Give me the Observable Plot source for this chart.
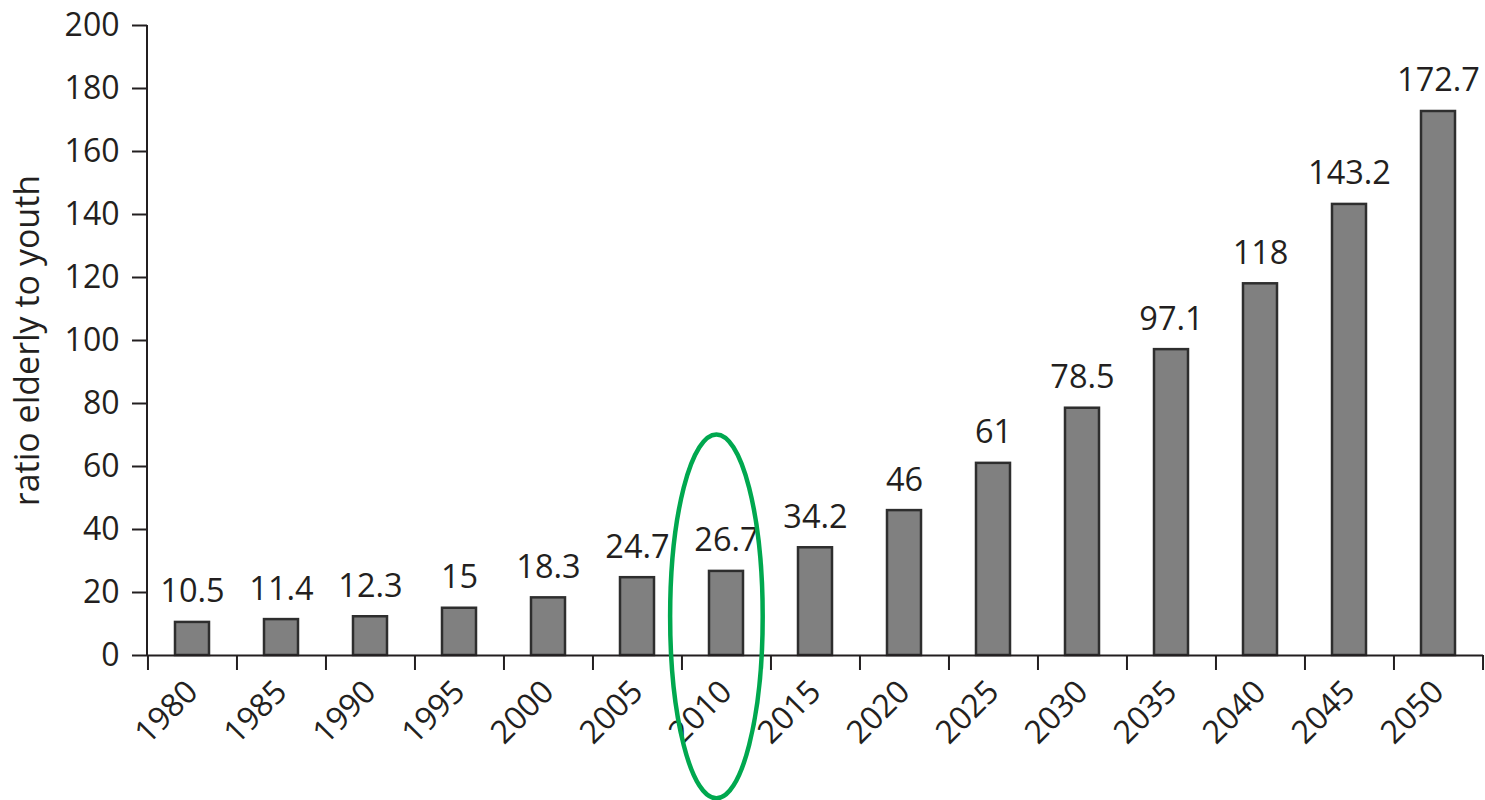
<!DOCTYPE html>
<html><head><meta charset="utf-8">
<script src="https://cdn.jsdelivr.net/npm/d3@7"></script>
<script src="https://cdn.jsdelivr.net/npm/@observablehq/plot@0.6"></script>
<style>body{margin:0;background:#fff}#chart{width:1485px;height:800px}</style>
</head><body><div id="chart"></div>
<script>
const years = ["1980","1985","1990","1995","2000","2005","2010","2015","2020","2025","2030","2035","2040","2045","2050"];
const values = [10.5, 11.4, 12.3, 15, 18.3, 24.7, 26.7, 34.2, 46, 61, 78.5, 97.1, 118, 143.2, 172.7];
const valueLabels = ["10.5","11.4","12.3","15","18.3","24.7","26.7","34.2","46","61","78.5","97.1","118","143.2","172.7"];
const yTicks = [0, 20, 40, 60, 80, 100, 120, 140, 160, 180, 200];
const yLabel = "ratio elderly to youth";
const highlightYear = "2010";
const highlightTop = 70;
const highlightBottom = -45.5;

const data = years.map((year, i) => ({year, value: values[i], label: valueLabels[i]}));

const W = 1485, H = 800;
const mL = 147, mR = 2, mT = 25, mB = 145;
const padIn = 0.62, padOut = 0.31;
const step = (W - mL - mR) / years.length;
const ink = "#231f20";

function yAxisLine(index, scales, values, dims) {
  return d3.create("svg:line")
    .attr("x1", dims.marginLeft).attr("x2", dims.marginLeft)
    .attr("y1", scales.y(200)).attr("y2", scales.y(0))
    .attr("stroke", ink).attr("stroke-width", 2).node();
}

function highlight(index, scales, values, dims) {
  const x = scales.x, y = scales.y;
  const st = x(years[1]) - x(years[0]);
  const bw = st * (1 - padIn);
  const cx = x(highlightYear) + bw / 2 - 9.5;
  const y1 = y(highlightTop), y2 = y(highlightBottom);
  return d3.create("svg:ellipse")
    .attr("cx", cx).attr("cy", (y1 + y2) / 2)
    .attr("rx", st * 0.52).attr("ry", (y2 - y1) / 2)
    .attr("fill", "none").attr("stroke", "#00a84f").attr("stroke-width", 4.5).node();
}

const chart = Plot.plot({
  width: W, height: H,
  marginLeft: mL, marginRight: mR, marginTop: mT, marginBottom: mB,
  style: {fontFamily: "Open Sans", fontSize: "32px", color: ink, background: "#fff", overflow: "visible"},
  x: {domain: years, paddingInner: padIn, paddingOuter: padOut, label: null, axis: null},
  y: {domain: [0, 200], label: null, axis: null},
  marks: [
    Plot.barY(data, {x: "year", y: "value", fill: "#808080", stroke: "#2e2e2e", strokeWidth: 2.5}),
    Plot.ruleY([0], {stroke: ink, strokeWidth: 2}),
    yAxisLine,
    Plot.axisY({ticks: yTicks, tickSize: 15, tickPadding: 13, fontSize: 32, strokeWidth: 2, label: null}),
    Plot.axisX({tickSize: 15, dx: -step / 2, tickFormat: () => "", strokeWidth: 2, label: null}),
    Plot.axisX([years[years.length - 1]], {tickSize: 15, dx: step / 2, tickFormat: () => "", strokeWidth: 2, label: null}),
    Plot.axisX({tickSize: 0, tickPadding: 31, tickRotate: -45, textAnchor: "end", fontSize: 32, label: null}),
    Plot.text(data, {x: "year", y: "value", text: "label", dy: -20, lineAnchor: "bottom", fontSize: 32.5, fill: ink}),
    Plot.text([yLabel], {frameAnchor: "left", textAnchor: "middle", lineAnchor: "middle", rotate: -90, dx: -119, fontSize: 34, fill: ink}),
    highlight
  ]
});
document.getElementById("chart").appendChild(chart);
</script>
</body></html>
